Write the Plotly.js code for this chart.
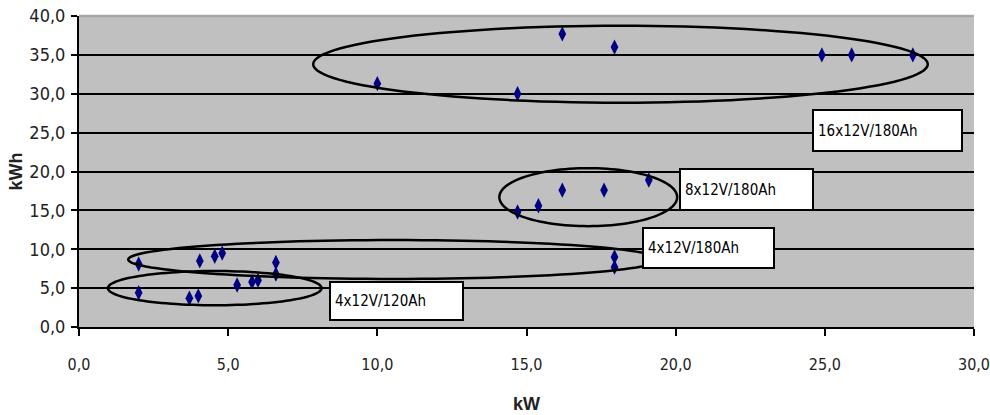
<!DOCTYPE html>
<html>
<head>
<meta charset="utf-8">
<script src="https://cdn.plot.ly/plotly-3.0.1.min.js"></script>
<style>html,body{margin:0;padding:0;background:#fff;}#chart{width:990px;height:415px;}</style>
</head>
<body>
<div id="chart"></div>
<script>
// Data
const kw  = [2.0, 2.0, 3.7, 4.0, 4.05, 4.55, 4.8, 5.3, 5.8, 6.0, 6.6, 6.6,
             10.0, 14.7, 16.2, 17.95, 24.9, 25.9, 27.95,
             14.7, 15.4, 16.2, 17.6, 19.1, 17.95, 17.95];
const kwh = [8.1, 4.4, 3.7, 4.0, 8.5, 9.1, 9.5, 5.4, 5.8, 6.0, 8.3, 6.8,
             31.3, 30.0, 37.7, 36.0, 35.0, 35.0, 35.0,
             14.8, 15.6, 17.6, 17.6, 18.9, 9.0, 7.7];

// Group labels
const groupLabels = ['16x12V/180Ah', '8x12V/180Ah', '4x12V/180Ah', '4x12V/120Ah'];

// Ellipse outlines around groups (center x, center y, half-width, half-height) in data units
const ellCx = [18.15, 17.07, 10.55, 4.55];
const ellCy = [33.8, 16.7, 8.68, 5.0];
const ellRx = [10.3, 2.98, 8.9, 3.58];
const ellRy = [4.95, 3.73, 2.5, 2.2];

// Label box placement (left x, top y in data units; pixel width/height)
const boxX = [24.57, 20.12, 18.88, 8.37];
const boxY = [28.0, 20.4, 12.85, 5.9];
const boxW = [149, 133, 131, 133];
const boxH = [41, 41, 40, 38];

const FONT_N = '"Liberation Sans Narrow", "DejaVu Sans Condensed", sans-serif';
const FONT = '"Liberation Sans", Arial, sans-serif';

function ellipsePath(cx, cy, rx, ry) {
  const n = 120;
  let p = '';
  for (let i = 0; i <= n; i++) {
    const t = 2 * Math.PI * i / n;
    const x = cx + rx * Math.cos(t);
    const y = cy + ry * Math.sin(t);
    p += (i === 0 ? 'M' : 'L') + x.toFixed(4) + ',' + y.toFixed(4);
  }
  return p + 'Z';
}

const shapes = ellCx.map((cx, i) => ({
  type: 'path', xref: 'x', yref: 'y',
  path: ellipsePath(cx, ellCy[i], ellRx[i], ellRy[i]),
  line: {color: '#000', width: 2.5},
  fillcolor: 'rgba(0,0,0,0)',
  layer: 'above'
}));
// light top edge of the plot area (the 40,0 line is not black in the original)
shapes.unshift({
  type: 'line', xref: 'paper', yref: 'paper', x0: 0, x1: 1, y0: 1, y1: 1,
  line: {color: '#a8a8a8', width: 2.5}, layer: 'above'
});

const pad = 4;
const annotations = groupLabels.map((t, i) => ({
  x: boxX[i], y: boxY[i], xref: 'x', yref: 'y',
  xanchor: 'left', yanchor: 'top',
  text: t, showarrow: false, align: 'left', valign: 'middle',
  width: boxW[i] - 2 * pad - 2, height: boxH[i] - 2 * pad - 2,
  bgcolor: '#ffffff', bordercolor: '#000000', borderwidth: 2, borderpad: pad,
  font: {family: FONT_N, size: 15, color: '#000'}
}));

const trace = {
  x: kw, y: kwh, type: 'scatter', mode: 'markers',
  marker: {symbol: 'diamond-tall', size: 11, color: '#000080'},
  hoverinfo: 'x+y'
};

const layout = {
  width: 990, height: 415,
  margin: {l: 79, r: 16, t: 16, b: 88},
  paper_bgcolor: '#ffffff',
  plot_bgcolor: '#c0c0c0',
  separators: ',.',
  showlegend: false,
  xaxis: {
    range: [0, 30], tickvals: [0, 5, 10, 15, 20, 25, 30], tickformat: '.1f',
    showgrid: false, zeroline: false,
    showline: true, linecolor: '#000', linewidth: 2,
    ticks: 'outside', ticklen: 7, tickwidth: 2, tickcolor: '#000',
    ticklabelstandoff: 15, ticklabeloverflow: 'allow',
    tickfont: {family: FONT_N, size: 16, color: '#222'},
    title: {text: '<b>kW</b>', font: {family: FONT, size: 18, color: '#222'}, standoff: 24},
    automargin: false
  },
  yaxis: {
    range: [0, 40], tickvals: [0, 5, 10, 15, 20, 25, 30, 35, 40], tickformat: '.1f',
    showgrid: true, gridcolor: '#000', gridwidth: 2, zeroline: false,
    showline: true, linecolor: '#000', linewidth: 2,
    ticks: 'outside', ticklen: 6, tickwidth: 2, tickcolor: '#000',
    ticklabelstandoff: 2, ticklabeloverflow: 'allow',
    tickfont: {family: FONT_N, size: 18, color: '#222'},
    title: {text: '<b>kWh</b>', font: {family: FONT, size: 18, color: '#222'}, standoff: 2},
    automargin: false
  },
  shapes: shapes,
  annotations: annotations
};

Plotly.newPlot('chart', [trace], layout, {displayModeBar: false, staticPlot: true});
</script>
</body>
</html>
